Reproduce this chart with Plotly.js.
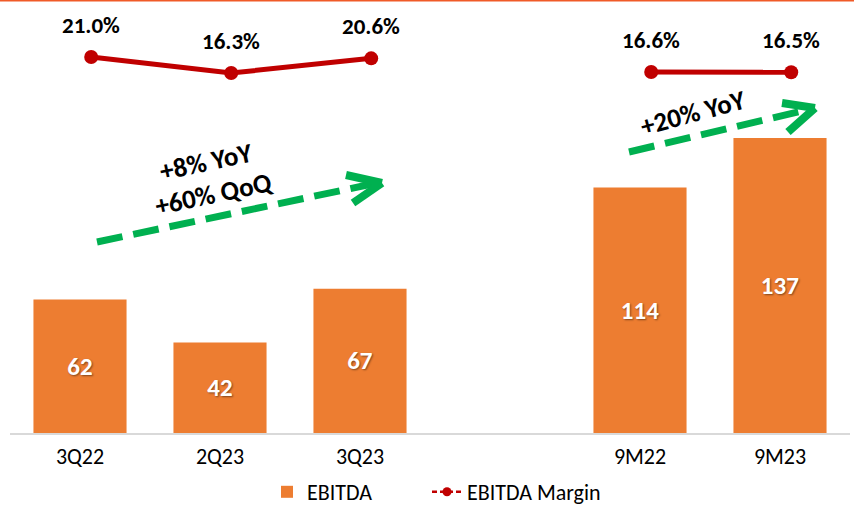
<!DOCTYPE html>
<html><head><meta charset="utf-8">
<script src="https://cdn.plot.ly/plotly-3.0.1.min.js"></script>
<style>html,body{margin:0;padding:0;background:#fff}#chart{width:854px;height:506px}</style>
</head><body><div id="chart"></div>
<script>
const categories = ['3Q22', '2Q23', '3Q23', ' ', '9M22', '9M23'];
const ebitda = [62, 42, 67, null, 114, 137];
const margin = [21.0, 16.3, 20.6, null, 16.6, 16.5];
const marginLabels = ['21.0%', '16.3%', '20.6%', '', '16.6%', '16.5%'];
const growthLeft = ['+8% YoY', '+60% QoQ'];
const growthRight = ['+20% YoY'];

const FONT = 'Carlito, "Liberation Sans Narrow", "Open Sans", sans-serif';
const W = 854, H = 506, L = 10, R = 4, T = 0, B = 73;
const pw = W - L - R, ph = H - T - B;
const px = x => (x - L) / pw;
const py = y => (H - B - y) / ph;
const GREEN = '#00B050';
const RED = '#C00000';

const traces = [
  {type: 'bar', x: categories, y: ebitda, name: 'EBITDA', width: 0.665,
   marker: {color: '#ED7D31'}, text: ebitda.map(v => v == null ? '' : String(v)),
   textposition: 'inside', insidetextanchor: 'middle', textangle: 0,
   textfont: {family: FONT, size: 25, color: '#fff', weight: 'bold', shadow: '1px 1px 2px rgba(0,0,0,0.45)'},
   hoverinfo: 'skip', showlegend: true, legend: 'legend'},
  {type: 'scatter', mode: 'lines+markers', x: categories, y: margin, xaxis: 'x2', yaxis: 'y2',
   name: 'EBITDA Margin', connectgaps: false, showlegend: false,
   line: {color: RED, width: 5}, marker: {color: RED, size: 14}},
  {type: 'scatter', mode: 'lines+markers', x: [null], y: [null], name: 'EBITDA Margin', legend: 'legend2',
   line: {color: RED, width: 2.5, dash: '5px,3px'}, marker: {color: RED, size: 9}}
];

const annotations = [];
categories.forEach((c, i) => {
  if (margin[i] == null) return;
  annotations.push({xref: 'x2', yref: 'y2', x: c, y: margin[i], text: marginLabels[i],
    xanchor: 'center', yanchor: 'middle',
    showarrow: false, yshift: 32, font: {family: FONT, size: 23, color: '#000', weight: 'bold'}});
});
function note(x, y, text, angle) {
  return {xref: 'paper', yref: 'paper', x: px(x), y: py(y), text: text, xanchor: 'center', yanchor: 'middle',
    showarrow: false, textangle: angle, font: {family: FONT, size: 27, color: '#000', weight: 'bold'}};
}
annotations.push(note(206, 161, growthLeft[0], -12));
annotations.push(note(214, 193, growthLeft[1], -12));
annotations.push(note(693, 112, growthRight[0], -15));

function seg(x0, y0, x1, y1, color, width, dash) {
  return {type: 'line', xref: 'paper', yref: 'paper', x0: px(x0), y0: py(y0), x1: px(x1), y1: py(y1),
    line: {color: color, width: width, dash: dash || 'solid'}, layer: 'above'};
}
const shapes = [
  {type: 'line', xref: 'paper', yref: 'paper', x0: -0.02, x1: 1.02, y0: 1, y1: 1,
   line: {color: '#F05A28', width: 3}},
  seg(97, 242, 372, 184, GREEN, 7, '26px,11px'),
  seg(346, 175, 382, 183, GREEN, 8), seg(353, 203, 382, 183, GREEN, 8),
  seg(629, 152, 806, 110, GREEN, 7, '26px,11px'),
  seg(782, 103, 815, 108, GREEN, 8), seg(788, 132, 815, 108, GREEN, 8)
];

const legendBase = {orientation: 'h', xref: 'container', xanchor: 'left',
  yref: 'container', y: (H - 492) / H, yanchor: 'middle', bgcolor: 'rgba(0,0,0,0)',
  font: {family: FONT, size: 22, color: '#000'}};

const layout = {
  width: W, height: H, margin: {l: L, r: R, t: T, b: B},
  paper_bgcolor: '#fff', plot_bgcolor: '#fff',
  font: {family: FONT, size: 16, color: '#000'},
  xaxis: {type: 'category', categoryorder: 'array', categoryarray: categories,
    range: [-0.5, 5.5], showgrid: false, zeroline: false, showline: true,
    linecolor: '#D9D9D9', linewidth: 2, ticks: '', tickfont: {size: 22, family: FONT, color: '#000'}, ticklabelstandoff: 3},
  xaxis2: {type: 'category', categoryorder: 'array', categoryarray: categories, overlaying: 'x',
    range: [-0.58, 5.42], visible: false},
  yaxis: {range: [0, ph / 2.153], visible: false, showgrid: false, zeroline: false},
  yaxis2: {range: [21 - (ph - 57) / 3.4, 21 + 57 / 3.4], overlaying: 'y', visible: false, showgrid: false, zeroline: false},
  legend: Object.assign({}, legendBase, {x: 267 / W}),
  legend2: Object.assign({}, legendBase, {x: 427 / W}),
  annotations: annotations, shapes: shapes, showlegend: true
};
Plotly.newPlot('chart', traces, layout, {displayModeBar: false, staticPlot: true});
</script></body></html>
